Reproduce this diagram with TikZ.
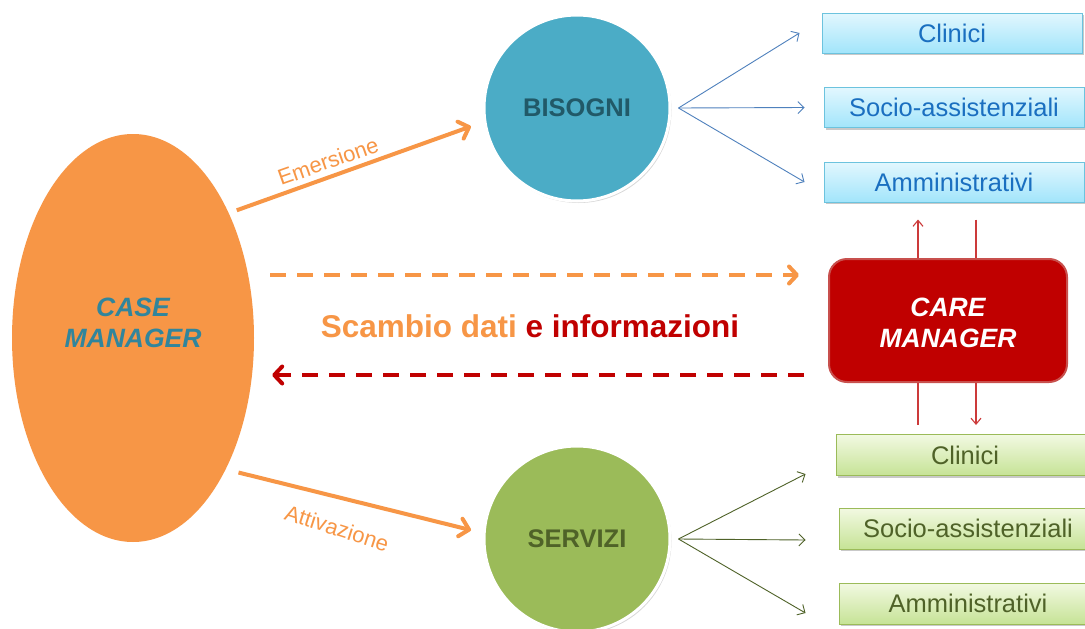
\documentclass[tikz,border=0pt]{standalone}
\usepackage{fontspec}
\setmainfont{Liberation Sans}
\usetikzlibrary{shapes.geometric,arrows.meta,shadows}
\definecolor{corange}{HTML}{F79646}
\definecolor{cteal}{HTML}{31859C}
\definecolor{cbisfill}{HTML}{4BACC6}
\definecolor{cbistext}{HTML}{215968}
\definecolor{cserfill}{HTML}{9BBB59}
\definecolor{csertext}{HTML}{4F6228}
\definecolor{cred}{HTML}{C00000}
\definecolor{credline}{HTML}{CC3A3A}
\definecolor{credborder}{HTML}{C8504D}
\definecolor{cbluearr}{HTML}{4F81BD}
\definecolor{cbluetext}{HTML}{1A6FC0}
\definecolor{cbluetop}{HTML}{E2F7FE}
\definecolor{cbluebot}{HTML}{A2E5FB}
\definecolor{cblueborder}{HTML}{6CC3DE}
\definecolor{cgreentop}{HTML}{F2F9E2}
\definecolor{cgreenbot}{HTML}{C6E396}
\begin{document}
\begin{tikzpicture}[x=1pt,y=-1pt,
  bigtip/.style={-{Straight Barb[length=9pt,width=18pt,round]}},
  flowarr/.style={corange,line width=4pt,bigtip},
  dasharr/.style={line width=4pt,dash pattern=on 16pt off 11pt,-{Straight Barb[length=8pt,width=17pt,round]}},
  bluearr/.style={cbluearr,line width=0.9pt,-{Straight Barb[length=6pt,width=12pt]}},
  greenarr/.style={csertext,line width=0.9pt,-{Straight Barb[length=6pt,width=12pt]}},
  redline/.style={credline,line width=1.1pt},
  redarr/.style={redline,-{Straight Barb[length=6pt,width=10pt]}},
  bigcircle/.style={circle,minimum size=186pt,inner sep=0pt,draw=white,line width=3pt,
     drop shadow={shadow xshift=1.5pt,shadow yshift=-2pt,opacity=0.25,fill=black!60},
     font=\fontsize{25.5}{30}\selectfont\bfseries},
  bluebox/.style={rectangle,minimum width=260pt,minimum height=40pt,inner sep=0pt,
     top color=cbluetop,bottom color=cbluebot,draw=cblueborder,line width=1pt,
     drop shadow={shadow xshift=2pt,shadow yshift=-2pt,opacity=0.35,fill=black!60},
     text=cbluetext,font=\fontsize{25.5}{30}\selectfont},
  greenbox/.style={rectangle,minimum width=258pt,minimum height=41pt,inner sep=0pt,
     top color=cgreentop,bottom color=cgreenbot,draw=cserfill,line width=1pt,
     drop shadow={shadow xshift=2pt,shadow yshift=-2pt,opacity=0.35,fill=black!60},
     text=csertext,font=\fontsize{25.5}{30}\selectfont},
  flowlabel/.style={corange,font=\fontsize{22}{26}\selectfont},
  mgrtext/.style={align=center,inner sep=0pt,font=\fontsize{26.5}{31}\selectfont\bfseries\itshape}
]
\useasboundingbox (0,0) rectangle (1085,629);
\fill[white] (0,0) rectangle (1085,629);

% main shapes
\node[ellipse,minimum width=242pt,minimum height=408pt,inner sep=0pt,fill=corange]
      (case) at (133,338) {};
\node[mgrtext,text=cteal] (casetxt) at ([yshift=15pt]case.center) {CASE\\MANAGER};
\node[bigcircle,fill=cbisfill,text=cbistext] (bis) at (577,108) {BISOGNI};
\node[bigcircle,fill=cserfill,text=csertext] (ser) at (577,539) {SERVIZI};
\node[rectangle,rounded corners=18pt,minimum width=238pt,minimum height=123pt,
      fill=cred,draw=credborder,line width=2pt] (care) at (948,320.5) {};
\node[mgrtext,text=white] (caretxt) at ([yshift=-2pt]care.center) {CARE\\MANAGER};

% blue boxes
\node[bluebox] (bcli) at (952,33) {Clinici};
\node[bluebox] (bsoc) at (954,107.5) {Socio-assistenziali};
\node[bluebox] (bamm) at (954,182) {Amministrativi};

% green boxes
\node[greenbox] (gcli) at (965,455) {Clinici};
\node[greenbox] (gsoc) at (968,528.5) {Socio-assistenziali};
\node[greenbox] (gamm) at (968,603.5) {Amministrativi};

% case -> bisogni / servizi
\draw[flowarr] ([shift={(6,-7)}]case.51) -- ([shift={(-13,2)}]bis.190.6);
\draw[flowarr] ([shift={(9,11)}]case.-52.8) -- ([shift={(-12,1)}]ser.174.1);
\node[flowlabel,rotate=19.4] (emers) at (328,161) {Emersione};
\node[flowlabel,rotate=-17.8] (attiv) at (337,528) {Attivazione};

% exchange arrows
\draw[dasharr,corange] ([shift={(16,-63)}]case.east) -- ([shift={(-29,-45.5)}]care.west);
\draw[dasharr,cred] ([shift={(-24,54.5)}]care.west) -- ([shift={(18,37)}]case.east);
\node[font=\fontsize{31.5}{37}\selectfont\bfseries] (scambio) at (530,326)
  {\textcolor{corange}{Scambio dati} \textcolor{cred}{e informazioni}};

% bisogni -> blue boxes
\draw[bluearr] ([xshift=7pt]bis.east) -- ([xshift=-22pt]bcli.west);
\draw[bluearr] ([xshift=7pt]bis.east) -- ([xshift=-19pt]bsoc.west);
\draw[bluearr] ([xshift=7pt]bis.east) -- ([xshift=-19pt]bamm.west);

% servizi -> green boxes
\draw[greenarr] ([xshift=7pt]ser.east) -- ([shift={(-30,19)}]gcli.west);
\draw[greenarr] ([xshift=7pt]ser.east) -- ([shift={(-33,11.5)}]gsoc.west);
\draw[greenarr] ([xshift=7pt]ser.east) -- ([shift={(-33,9.5)}]gamm.west);

% care manager vertical links
\draw[redarr] ([xshift=-30pt]care.north) -- ([shift={(-36,17)}]bamm.south);
\draw[redline] ([shift={(22,17)}]bamm.south) -- ([xshift=28pt]care.north);
\draw[redline] ([xshift=-30pt]care.south) -- ([shift={(-47,-9)}]gcli.north);
\draw[redarr] ([xshift=28pt]care.south) -- ([shift={(11,-9)}]gcli.north);
\end{tikzpicture}
\end{document}
